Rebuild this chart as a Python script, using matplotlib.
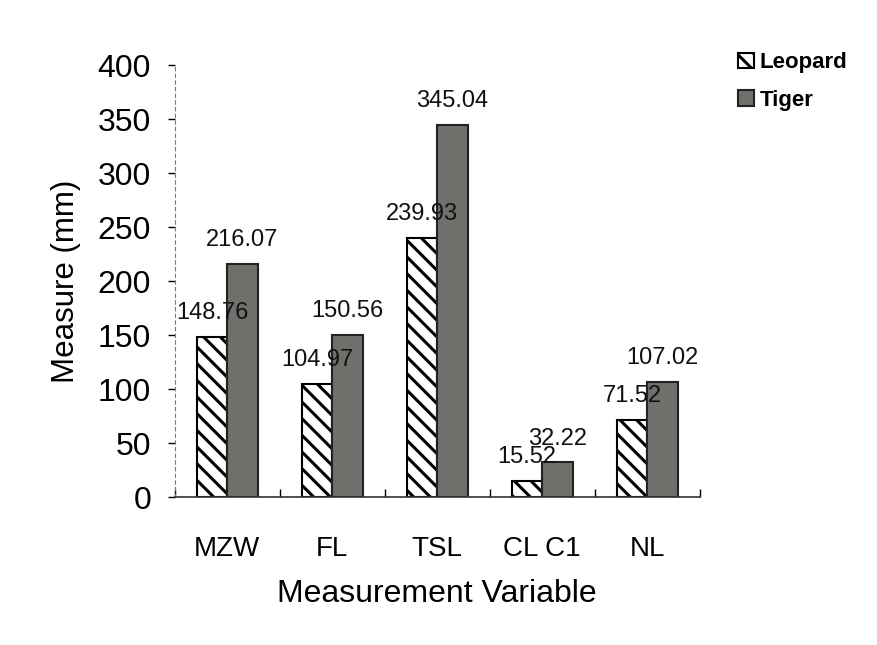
import numpy as np
import matplotlib.pyplot as plt

plt.rcParams['font.family'] = ['Liberation Sans', 'DejaVu Sans']
plt.rcParams['hatch.linewidth'] = 2.2

# data
categories = ['MZW', 'FL', 'TSL', 'CL C1', 'NL']
leopard = [148.76, 104.97, 239.93, 15.52, 71.52]
tiger = [216.07, 150.56, 345.04, 32.22, 107.02]
leopard_labels = ['148.76', '104.97', '239.93', '15.52', '71.52']
tiger_labels = ['216.07', '150.56', '345.04', '32.22', '107.02']

fig = plt.figure(figsize=(8.78, 6.45), dpi=100)
ax = fig.add_axes([0.199, 0.229, 0.598, 0.670])

x = np.arange(len(categories))
w = 0.29

b1 = ax.bar(x - w/2, leopard, w, color='white', edgecolor='black',
            hatch='\\\\', linewidth=1.5, label='Leopard')
b2 = ax.bar(x + w/2, tiger, w, color='#6f6f6c', edgecolor='#222222',
            linewidth=1.5, label='Tiger')

# value labels
for xi, v, s in zip(x, leopard, leopard_labels):
    ax.text(xi - w/2, v + 12, s, ha='center', va='bottom',
            fontsize=17, color='#111111')
for xi, v, s in zip(x, tiger, tiger_labels):
    ax.text(xi + w/2, v + 12, s, ha='center', va='bottom',
            fontsize=17, color='#111111')

ax.set_xlim(-0.5, 4.5)
ax.set_ylim(0, 400)
ax.set_yticks(np.arange(0, 401, 50))
ax.set_xticks(x)
ax.set_xticklabels(categories, fontsize=20)
ax.set_xticks(np.arange(-0.5, 5, 1), minor=True)
ax.tick_params(axis='x', which='major', length=0, pad=28)
ax.tick_params(axis='x', which='minor', length=6, direction='in', width=1)
ax.tick_params(axis='y', labelsize=23, length=5, width=1, pad=12)

for s in ['top', 'right']:
    ax.spines[s].set_visible(False)
ax.spines['left'].set_color('#777777')
ax.spines['left'].set_linestyle((0, (3, 3)))
ax.spines['left'].set_linewidth(0.8)
ax.spines['bottom'].set_color('#333333')
ax.spines['bottom'].set_linewidth(1.2)

ax.set_ylabel('Measure (mm)', fontsize=22.5, labelpad=12)
ax.set_xlabel('Measurement Variable', fontsize=23, labelpad=12)

leg = fig.legend(handles=[b1, b2], loc='upper left', bbox_to_anchor=(0.818, 0.95),
                 frameon=False, handlelength=0.7, handleheight=0.7,
                 handletextpad=0.25, labelspacing=0.75, prop={'weight': 'bold', 'size': 16})

plt.savefig('out.png', dpi=100)
